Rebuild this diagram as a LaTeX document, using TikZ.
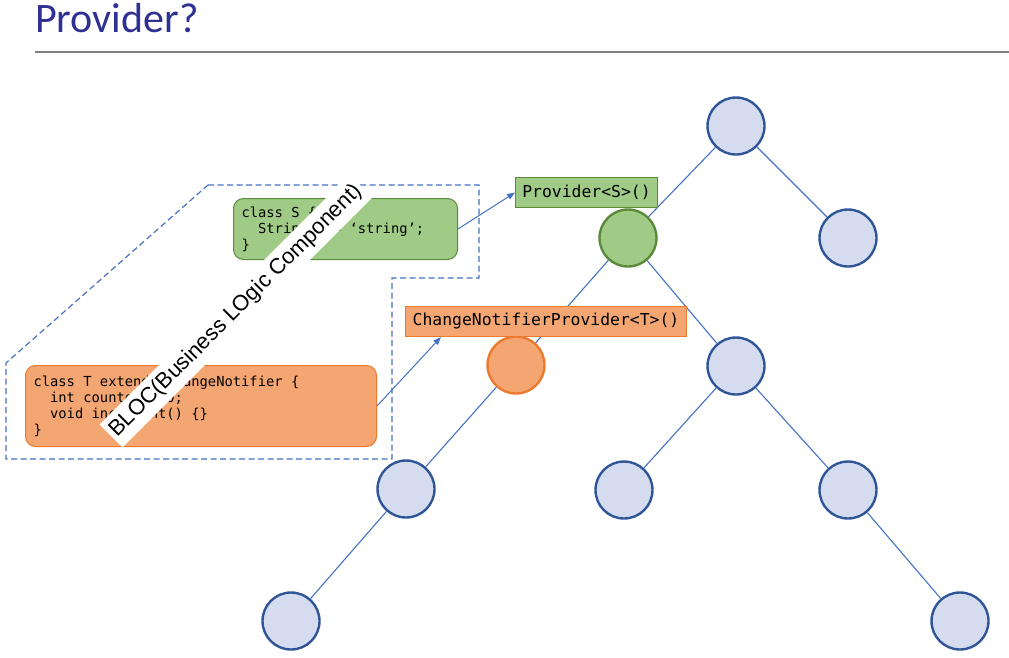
\documentclass[tikz,border=0pt]{standalone}
\usepackage{fontspec}
\setmainfont{Liberation Sans}
\setmonofont{DejaVu Sans Mono}
\newfontfamily\titlefont{Carlito}
\usetikzlibrary{arrows.meta}

\definecolor{titleblue}{HTML}{2E3192}
\definecolor{edgeblue}{HTML}{4472C4}
\definecolor{nodeblue}{HTML}{2F5597}
\definecolor{nodefill}{HTML}{D6DCF0}
\definecolor{stategreen}{HTML}{A0CB86}
\definecolor{stateborder}{HTML}{5A8A3A}
\definecolor{notifyorange}{HTML}{F4A672}
\definecolor{notifyborder}{HTML}{EB7A2E}

\newcommand{\ind}{\hphantom{xx}}
\newcommand{\csp}{\hphantom{x}}

\tikzset{
    tree/.style={circle, minimum size=57pt, inner sep=0pt, line width=2.4pt, draw=nodeblue, fill=nodefill},
    treeS/.style={tree, draw=stateborder, fill=stategreen},
    treeT/.style={tree, draw=notifyborder, fill=notifyorange},
    edge/.style={draw=edgeblue, line width=1.1pt},
    codebox/.style={rounded corners=10pt, line width=1pt, anchor=north west,
        font=\fontsize{13.8}{16}\selectfont\ttfamily, inner xsep=8pt, inner ysep=6pt},
    provbox/.style={line width=1pt, font=\fontsize{16.4}{18}\selectfont\ttfamily,
        inner xsep=5pt, inner ysep=0pt, minimum height=30pt},
    link/.style={draw=edgeblue, line width=1pt, -{Triangle[length=8pt,width=6pt]}}
}

\begin{document}
\begin{tikzpicture}[x=1pt, y=-1pt]
    \useasboundingbox (0,0) rectangle (1009,657);

    \node[anchor=base west, inner sep=0pt, text=titleblue, font=\titlefont\fontsize{42}{44}\selectfont] (title) at (35,32) {Provider?};
    \draw[gray, line width=1.5pt] (35,52) -- (1009,52);

    % widget tree
    \node[tree]  (root) at (736,126) {};
    \node[treeS] (S)    at (628,238) {};
    \node[tree]  (r1)   at (848,238) {};
    \node[treeT] (T)    at (516,365) {};
    \node[tree]  (m)    at (736,366) {};
    \node[tree]  (l2)   at (406,489) {};
    \node[tree]  (ml)   at (624,490) {};
    \node[tree]  (mr)   at (848,490) {};
    \node[tree]  (ll)   at (291,621) {};
    \node[tree]  (rr)   at (960,621) {};
    \path[edge] (root) -- (S)  (root) -- (r1)  (S) -- (T)  (T) -- (l2)
        (S) -- (m)  (m) -- (ml)  (m) -- (mr)  (l2) -- (ll)  (mr) -- (rr);

    % BLOC area
    \draw[edgeblue, line width=1.2pt, dash pattern=on 6pt off 3.5pt]
        (208,185) -- (479,185) -- (479,278) -- (392,278) -- (392,459) -- (6,459) -- (6,363) -- cycle;

    \node[codebox, draw=stateborder, fill=stategreen, text width=208pt, minimum height=61pt] (codeS) at (233,198)
        {class\csp S\csp\{\\\ind String\csp s\csp =\csp ‘string’;\\\}};
    \node[codebox, draw=notifyborder, fill=notifyorange, text width=335pt, minimum height=81pt] (codeT) at (25,365)
        {class\csp T\csp extends\csp ChangeNotifier\csp\{\\\ind int\csp counter\csp =\csp 0;\\\ind void\csp increment()\csp\{\}\\\}};

    \node[provbox, draw=stateborder, fill=stategreen, anchor=north west, minimum width=142pt] (provS) at (515,177) {Provider<S>()};
    \node[provbox, draw=notifyborder, fill=notifyorange, anchor=north west, minimum width=281pt] (provT) at (405,306) {ChangeNotifierProvider<T>()};

    \draw[link] (codeS.east) -- (provS.west);
    \draw[link] (codeT.east) -- (provT.south west -| 441,0);

    \node[fill=white, rotate=45, inner xsep=3pt, inner ysep=6pt, font=\fontsize{22}{24}\selectfont] (bloc) at (236,311) {BLOC(Business LOgic Component)};
\end{tikzpicture}
\end{document}
